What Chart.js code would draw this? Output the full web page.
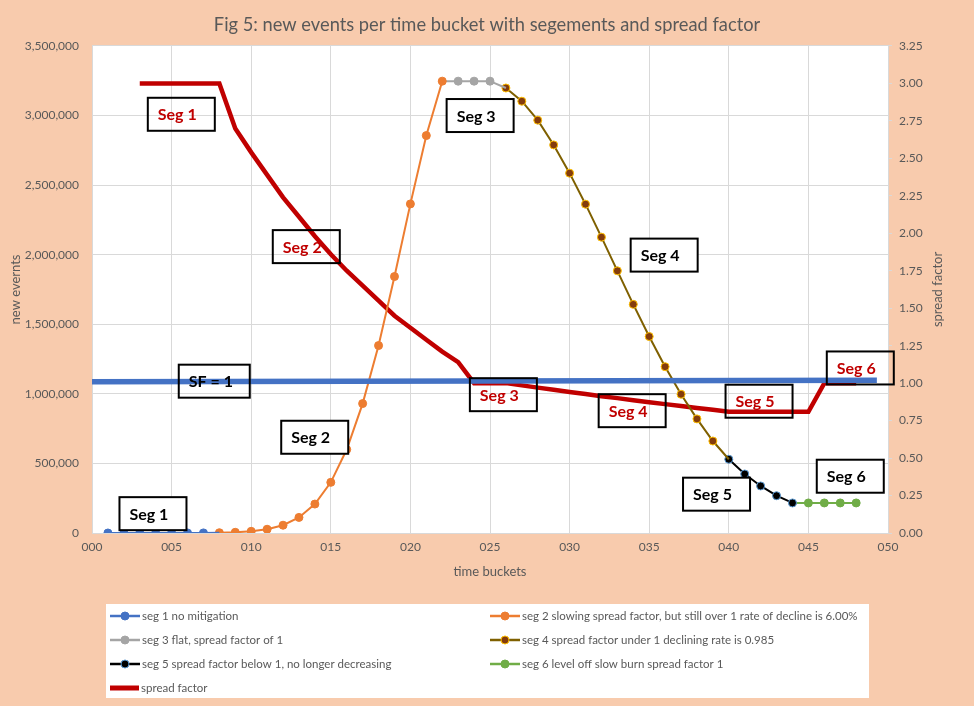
<!DOCTYPE html>
<html>
<head>
<meta charset="utf-8">
<script src="https://cdn.jsdelivr.net/npm/chart.js@4.4.1/dist/chart.umd.min.js"></script>
<style>
  body { margin: 0; background: #F8CBAD; }
</style>
</head>
<body>
<canvas id="myChart" width="974" height="706"></canvas>
<script>
const ctx = document.getElementById('myChart');

// new events per time bucket, one list per segment
const seg1Buckets = [1, 2, 3, 4, 5, 6, 7, 8];
const seg1Events = [1, 3, 9, 27, 81, 243, 730, 2000];
const seg2Buckets = [8, 9, 10, 11, 12, 13, 14, 15, 16, 17, 18, 19, 20, 21, 22];
const seg2Events = [2000, 5000, 12000, 27000, 56000, 112000, 208000, 364000, 600000, 930000, 1347000, 1843000, 2365000, 2856000, 3247000];
const seg3Buckets = [22, 23, 24, 25, 26];
const seg3Events = [3247000, 3247000, 3247000, 3247000, 3198000];
const seg4Buckets = [26, 27, 28, 29, 30, 31, 32, 33, 34, 35, 36, 37, 38, 39, 40];
const seg4Events = [3198000, 3103000, 2967000, 2789000, 2586000, 2363000, 2126000, 1884000, 1643000, 1412000, 1195000, 997000, 820000, 661000, 530000];
const seg5Buckets = [40, 41, 42, 43, 44];
const seg5Events = [530000, 424000, 338000, 268000, 216000];
const seg6Buckets = [44, 45, 46, 47, 48];
const seg6Events = [216000, 216000, 216000, 216000, 216000];

// spread factor (right axis)
const sfBuckets = [3, 4, 5, 6, 7, 8, 9, 10, 11, 12, 13, 14, 15, 16, 17, 18, 19, 20, 21, 22, 23, 24, 25, 26,
  27, 28, 29, 30, 31, 32, 33, 34, 35, 36, 37, 38, 39, 40, 41, 42, 43, 44, 45, 46, 47, 48];
const spreadFactor = [3.00, 3.00, 3.00, 3.00, 3.00, 3.00, 2.70, 2.54, 2.39, 2.24, 2.11, 1.98, 1.86, 1.75, 1.65, 1.55, 1.45, 1.37, 1.29, 1.21, 1.14, 1.00, 1.00, 1.00,
  0.985, 0.970, 0.956, 0.941, 0.927, 0.913, 0.900, 0.886, 0.873, 0.860, 0.847, 0.834, 0.822, 0.809, 0.809, 0.809, 0.809, 0.809, 0.809, 1.00, 1.00, 1.00];

// the "SF = 1" reference line
const sfOneBuckets = [0, 49.3];
const sfOneValues = [1.01, 1.02];

const legendLabels = [
  'seg 1 no mitigation',
  'seg 2 slowing spread factor, but still over 1 rate of decline is 6.00%',
  'seg 3 flat, spread factor of 1',
  'seg 4 spread factor under 1 declining rate is 0.985',
  'seg 5 spread factor below 1, no longer decreasing',
  'seg 6 level off slow burn spread factor 1',
  'spread factor'
];

// text boxes on the plot (bucket, new events)
const notes = [
  { text: 'Seg 1', x: 5.61, y: 3009000, red: true },
  { text: 'Seg 2', x: 13.46, y: 2058000, red: true },
  { text: 'Seg 3', x: 25.84, y: 994000, red: true },
  { text: 'Seg 4', x: 33.93, y: 879000, red: true },
  { text: 'Seg 5', x: 41.9, y: 947000, red: true },
  { text: 'Seg 6', x: 48.26, y: 1186000, red: true },
  { text: 'SF = 1', x: 7.68, y: 1091000, red: false, clear: true, w: 71 },
  { text: 'Seg 1', x: 3.83, y: 139000 },
  { text: 'Seg 2', x: 13.99, y: 688000 },
  { text: 'Seg 3', x: 24.38, y: 3000000 },
  { text: 'Seg 4', x: 35.94, y: 1997000 },
  { text: 'Seg 5', x: 39.23, y: 279000 },
  { text: 'Seg 6', x: 47.63, y: 408000 }
];

const FONT = 'Lato';
const GREY = '#595959';

const pts = (xs, ys) => xs.map((x, i) => ({ x: x, y: ys[i] }));
const radii = (n, hideFirst, hideLast) => Array.from({ length: n }, (_, i) =>
  (hideFirst && i === 0) || (hideLast && i === n - 1) ? 0 : 4);

function segment(label, xs, ys, line, fill, edge, hideFirst, hideLast) {
  return {
    label: label,
    data: pts(xs, ys),
    yAxisID: 'y',
    borderColor: line,
    borderWidth: 2,
    pointBackgroundColor: fill,
    pointBorderColor: edge,
    pointBorderWidth: 1,
    pointRadius: radii(xs.length, hideFirst, hideLast),
    tension: 0,
    marker: true
  };
}

const background = {
  id: 'background',
  beforeDraw(chart) {
    const c = chart.ctx;
    const a = chart.chartArea;
    c.save();
    c.fillStyle = '#F8CBAD';
    c.fillRect(0, 0, chart.width, chart.height);
    c.fillStyle = '#FFFFFF';
    c.fillRect(a.left, a.top, a.right - a.left, a.bottom - a.top);
    c.restore();
  }
};

const noteBoxes = {
  id: 'noteBoxes',
  afterDatasetsDraw(chart) {
    const c = chart.ctx;
    const sx = chart.scales.x, sy = chart.scales.y;
    c.save();
    notes.forEach(n => {
      const w = n.w || 67, h = 33;
      const cx = sx.getPixelForValue(n.x), cy = sy.getPixelForValue(n.y);
      const left = cx - w / 2, top = cy - h / 2;
      if (!n.red && !n.clear) {
        c.fillStyle = '#FFFFFF';
        c.fillRect(left, top, w, h);
      }
      c.strokeStyle = '#000000';
      c.lineWidth = 2;
      c.strokeRect(left, top, w, h);
      c.fillStyle = n.red ? '#C00000' : '#000000';
      c.font = 'bold 16px ' + FONT;
      c.textAlign = 'left';
      c.textBaseline = 'middle';
      c.fillText(n.text, left + 10, cy + 1);
    });
    c.restore();
  }
};

const sideTitleAndLegend = {
  id: 'sideTitleAndLegend',
  afterDraw(chart) {
    const c = chart.ctx;
    const a = chart.chartArea;
    c.save();
    // right axis title, rotated like the left one
    c.translate(938, (a.top + a.bottom) / 2);
    c.rotate(-Math.PI / 2);
    c.fillStyle = GREY;
    c.font = '13px ' + FONT;
    c.textAlign = 'center';
    c.textBaseline = 'middle';
    c.fillText('spread factor', 0, 0);
    c.restore();

    // legend, two columns
    c.save();
    c.fillStyle = '#FFFFFF';
    c.fillRect(106, 604, 763, 94);
    const items = chart.data.datasets.filter(d => d.label);
    items.forEach((d, i) => {
      const x = 110 + (i % 2) * 380;
      const y = 616 + Math.floor(i / 2) * 24;
      c.strokeStyle = d.borderColor;
      c.lineWidth = d.marker ? 2.5 : 5;
      c.beginPath();
      c.moveTo(x, y);
      c.lineTo(x + (d.marker ? 30 : 29), y);
      c.stroke();
      if (d.marker) {
        c.beginPath();
        c.arc(x + 15, y, 4, 0, Math.PI * 2);
        c.fillStyle = d.pointBackgroundColor;
        c.fill();
        c.lineWidth = 1;
        c.strokeStyle = d.pointBorderColor;
        c.stroke();
      }
      c.fillStyle = GREY;
      c.font = '11.5px ' + FONT;
      c.textAlign = 'left';
      c.textBaseline = 'middle';
      c.fillText(d.label, x + (d.marker ? 32 : 31), y);
    });
    c.restore();
  }
};

new Chart(ctx, {
  type: 'line',
  data: {
    datasets: [
      {
        data: pts(sfOneBuckets, sfOneValues),
        yAxisID: 'y2',
        borderColor: '#4472C4',
        borderWidth: 5.5,
        pointRadius: 0
      },
      segment(legendLabels[0], seg1Buckets, seg1Events, '#4472C4', '#4472C4', '#4472C4', false, true),
      segment(legendLabels[1], seg2Buckets, seg2Events, '#ED7D31', '#ED7D31', '#ED7D31', false, false),
      segment(legendLabels[2], seg3Buckets, seg3Events, '#A5A5A5', '#A5A5A5', '#A5A5A5', true, true),
      segment(legendLabels[3], seg4Buckets, seg4Events, '#7F6000', '#843C0C', '#FFC000', false, true),
      segment(legendLabels[4], seg5Buckets, seg5Events, '#000000', '#000000', '#5B9BD5', false, false),
      segment(legendLabels[5], seg6Buckets, seg6Events, '#70AD47', '#70AD47', '#70AD47', true, false),
      {
        label: legendLabels[6],
        data: pts(sfBuckets, spreadFactor),
        yAxisID: 'y2',
        borderColor: '#C00000',
        borderWidth: 4.5,
        pointRadius: 0,
        tension: 0
      }
    ]
  },
  options: {
    responsive: false,
    animation: false,
    layout: { padding: { left: 0, right: 0, top: 0, bottom: 121 } },
    plugins: {
      legend: { display: false },
      tooltip: { enabled: false },
      title: {
        display: true,
        text: 'Fig 5: new events per time bucket with segements and spread factor',
        color: GREY,
        font: { family: FONT, size: 18.3, weight: 'normal' },
        padding: { top: 14, bottom: 10 }
      }
    },
    scales: {
      x: {
        type: 'linear',
        min: 0,
        max: 50,
        afterFit: s => { s.height = 52; },
        ticks: {
          stepSize: 5,
          color: GREY,
          font: { family: FONT, size: 12 },
          padding: 7,
          callback: v => String(v).padStart(3, '0')
        },
        grid: { color: '#D9D9D9', drawTicks: false },
        border: { display: false },
        title: {
          display: true,
          text: 'time buckets',
          color: GREY,
          font: { family: FONT, size: 13 },
          padding: { top: 0, bottom: 5 }
        }
      },
      y: {
        position: 'left',
        min: 0,
        max: 3500000,
        afterFit: s => { s.width = 92; },
        ticks: {
          stepSize: 500000,
          color: GREY,
          font: { family: FONT, size: 12 },
          padding: 13,
          callback: v => v.toLocaleString('en-US')
        },
        grid: { color: '#D9D9D9', drawTicks: false },
        border: { display: false },
        title: {
          display: true,
          text: 'new evernts',
          color: GREY,
          font: { family: FONT, size: 13 },
          padding: { top: 8, bottom: 0 }
        }
      },
      y2: {
        position: 'right',
        min: 0,
        max: 3.25,
        afterFit: s => { s.width = 86; },
        ticks: {
          stepSize: 0.25,
          color: GREY,
          font: { family: FONT, size: 12 },
          padding: 7,
          callback: v => v.toFixed(2)
        },
        grid: { drawOnChartArea: false, color: '#D9D9D9', tickLength: 4 },
        border: { display: false }
      }
    }
  },
  plugins: [background, noteBoxes, sideTitleAndLegend]
});
</script>
</body>
</html>
